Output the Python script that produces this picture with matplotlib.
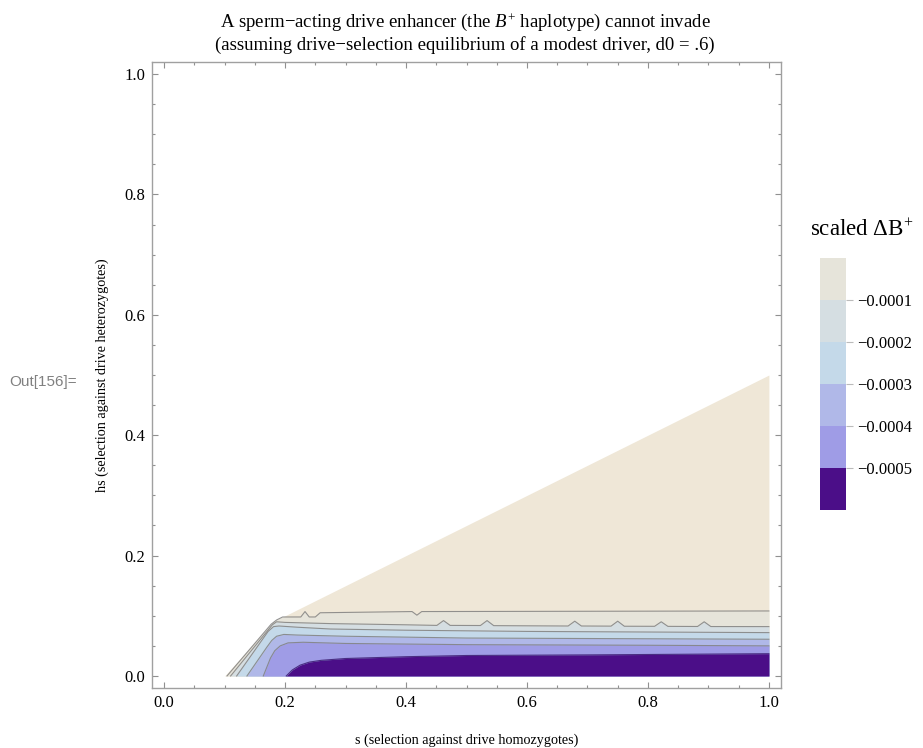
import matplotlib
matplotlib.use("Agg")
import matplotlib.pyplot as plt
from matplotlib.colors import ListedColormap, BoundaryNorm
from matplotlib.cm import ScalarMappable
from matplotlib.ticker import MultipleLocator

plt.rcParams['font.family'] = ['Liberation Serif', 'DejaVu Serif']
plt.rcParams['mathtext.fontset'] = 'custom'
plt.rcParams['mathtext.rm'] = 'Liberation Serif'
plt.rcParams['mathtext.it'] = 'Liberation Serif:italic'

# ---- data ----
domain_s = [0.100, 0.181, 1.000]
domain_hs = [0.000, 0.0905, 0.500]

c0_s = [0.104, 0.177, 0.186, 0.196, 0.226, 0.233, 0.240, 0.250, 0.258, 0.410, 0.418, 0.426, 1.000]
c0_hs = [0.000, 0.086, 0.093, 0.098, 0.098, 0.107, 0.098, 0.098, 0.105, 0.107, 0.101, 0.107, 0.108]

c1_s = [0.110, 0.179, 0.186, 0.200, 0.275, 0.400, 0.451, 0.462, 0.473, 0.523, 0.534, 0.545,
        0.668, 0.679, 0.690, 0.739, 0.750, 0.761, 0.811, 0.822, 0.833, 0.882, 0.893, 0.904, 1.000]
c1_hs = [0.000, 0.085, 0.090, 0.089, 0.087, 0.085, 0.084, 0.092, 0.084, 0.0838, 0.092, 0.0836,
         0.083, 0.091, 0.083, 0.0828, 0.091, 0.0826, 0.0825, 0.090, 0.0824, 0.0822, 0.090, 0.0821, 0.082]

c2_s = [0.120, 0.172, 0.181, 0.190, 0.220, 0.275, 0.400, 0.600, 0.800, 1.000]
c2_hs = [0.000, 0.074, 0.082, 0.083, 0.081, 0.078, 0.076, 0.074, 0.073, 0.072]

c3_s = [0.137, 0.170, 0.178, 0.186, 0.198, 0.220, 0.300, 0.500, 0.750, 1.000]
c3_hs = [0.000, 0.048, 0.059, 0.066, 0.069, 0.068, 0.066, 0.063, 0.062, 0.061]

c4_s = [0.164, 0.170, 0.176, 0.183, 0.192, 0.205, 0.230, 0.300, 0.500, 0.800, 1.000]
c4_hs = [0.000, 0.015, 0.030, 0.042, 0.050, 0.055, 0.056, 0.054, 0.052, 0.051, 0.050]

c5_s = [0.202, 0.212, 0.225, 0.240, 0.260, 0.300, 0.400, 0.500, 0.700, 1.000]
c5_hs = [0.000, 0.010, 0.018, 0.023, 0.026, 0.029, 0.032, 0.034, 0.035, 0.037]

legend_bounds = [-0.0006, -0.0005, -0.0004, -0.0003, -0.0002, -0.0001, 0.0]
legend_ticks = [-0.0005, -0.0004, -0.0003, -0.0002, -0.0001]
legend_labels = ['\u22120.0005', '\u22120.0004', '\u22120.0003', '\u22120.0002', '\u22120.0001']

xticks = [0.0, 0.2, 0.4, 0.6, 0.8, 1.0]
xtick_labels = ['0.0', '0.2', '0.4', '0.6', '0.8', '1.0']
yticks = [0.0, 0.2, 0.4, 0.6, 0.8, 1.0]
ytick_labels = ['0.0', '0.2', '0.4', '0.6', '0.8', '1.0']

# ---- styles ----
tan = '#EFE7D7'
band_colors = ['#E6E4DA', '#D5DEE2', '#C4D9E9', '#B0B8E8', '#9F9CE6', '#4B0E88']
line_color = '#808080'

W, H = 923, 748
fig = plt.figure(figsize=(W / 100, H / 100), dpi=100)
fig.patch.set_facecolor('white')

L, R, T, B = 152, 781, 62, 688
ax = fig.add_axes([L / W, 1 - B / H, (R - L) / W, (B - T) / H])

ax.fill_between(domain_s, 0, domain_hs, color=tan, lw=0)
contours = [(c0_s, c0_hs), (c1_s, c1_hs), (c2_s, c2_hs), (c3_s, c3_hs), (c4_s, c4_hs), (c5_s, c5_hs)]
for (cs, ch), col in zip(contours, band_colors):
    ax.fill_between(cs, 0, ch, color=col, lw=0)
for i, (cs, ch) in enumerate(contours):
    ax.plot(cs, ch, color=line_color if i < 5 else '#3a1a70', lw=0.8, alpha=0.85)

ax.set_xlim(-0.02, 1.02)
ax.set_ylim(-0.02, 1.02)
ax.set_xticks(xticks)
ax.set_xticklabels(xtick_labels)
ax.set_yticks(yticks)
ax.set_yticklabels(ytick_labels)
ax.xaxis.set_minor_locator(MultipleLocator(0.05))
ax.yaxis.set_minor_locator(MultipleLocator(0.05))
ax.tick_params(which='both', direction='in', top=True, right=True, color='#909090', width=0.8)
ax.tick_params(which='major', length=4.2, labelsize=12, pad=5, labelcolor='black')
ax.tick_params(which='minor', length=2.4)
for sp in ax.spines.values():
    sp.set_color('#A0A0A0')
    sp.set_linewidth(1.0)

ax.set_xlabel('s (selection against drive homozygotes)', fontsize=10.2, labelpad=16)
ax.set_ylabel('hs (selection against drive heterozygotes)', fontsize=10.2, labelpad=11)

fig.text(465 / W, 1 - 27 / H, 'A sperm\u2212acting drive enhancer (the $B^{+}$ haplotype) cannot invade',
         ha='center', va='baseline', fontsize=13.5)
fig.text(465 / W, 1 - 50 / H, '(assuming drive\u2212selection equilibrium of a modest driver, d0 = .6)',
         ha='center', va='baseline', fontsize=13.5)

fig.text(9 / W, 1 - 382 / H, 'Out[156]=', family='Liberation Sans', color='#808080',
         fontsize=11, ha='left', va='center')

# legend
cax = fig.add_axes([820 / W, 1 - 510 / H, 26 / W, 252 / H])
cmap = ListedColormap(band_colors[::-1])
norm = BoundaryNorm(legend_bounds, cmap.N)
cb = fig.colorbar(ScalarMappable(norm=norm, cmap=cmap), cax=cax, ticks=legend_ticks)
cb.set_ticklabels(legend_labels)
cb.minorticks_off()
cb.outline.set_visible(False)
cax.tick_params(which='both', length=5, width=0.8, color='#BBBBBB', labelsize=12, pad=3)
cax.tick_params(which='minor', length=0)
fig.text(862 / W, 1 - 236 / H, r'scaled $\mathrm{\Delta B}^{+}$', ha='center', va='baseline', fontsize=16.5)

fig.savefig('out.png', dpi=100)
